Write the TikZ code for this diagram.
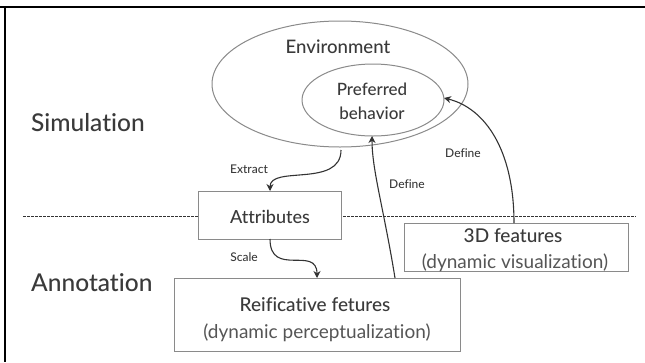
\documentclass[tikz,border=0pt]{standalone}
\usepackage{fontspec}
\setmainfont{Lato}[Ligatures=NoCommon]
\newfontfamily\med{Lato Medium}[Ligatures=NoCommon]
\usetikzlibrary{arrows.meta,shapes.geometric}
\definecolor{txt}{HTML}{3A3A3A}
\definecolor{txtl}{HTML}{555555}
\definecolor{edge}{HTML}{8A8A8A}
\definecolor{arr}{HTML}{333333}
\begin{document}
\begin{tikzpicture}[x=1pt,y=-1pt,
  box/.style={draw=edge,fill=white,line width=1pt,rectangle,inner sep=0pt},
  oval/.style={draw=edge,line width=1pt,ellipse,inner sep=0pt},
  lbl/.style={text=txt,inner sep=0pt},
  head/.style={text=txt,inner sep=0pt,font=\med\fontsize{19}{21}\selectfont},
  sub/.style={text=txtl,inner sep=0pt,font=\fontsize{19}{21}\selectfont},
  small/.style={text=txt,inner sep=0pt,font=\med\fontsize{12}{13}\selectfont},
  conn/.style={draw=arr,line width=1.1pt,-{Stealth[length=7pt,width=7pt]}}]
\useasboundingbox (0,0) rectangle (645,362);
\fill[white] (0,0) rectangle (645,362);
% frame
\draw[black,line width=2pt] (0,7) -- (645,7);
\draw[black,line width=2pt] (5,7) -- (5,362);
% dashed divider
\draw[arr,line width=0.8pt,dash pattern=on 2.5pt off 1.5pt] (23,216) -- (636,216);
% ellipses
\node[oval,minimum width=256pt,minimum height=126pt] (env) at (340,84) {};
\node[lbl,font=\med\fontsize{18.6}{20}\selectfont] (envt) at (338,47) {Environment};
\node[oval,minimum width=142pt,minimum height=72pt] (pref) at (373,100) {};
\node[lbl,font=\med\fontsize{17}{20}\selectfont,anchor=base] (pref1) at (372,95) {Preferred};
\node[lbl,font=\med\fontsize{17}{20}\selectfont,anchor=base] (pref2) at (372,119) {behavior};
% side labels
\node[lbl,font=\med\fontsize{24.5}{26}\selectfont,anchor=west] (sim) at (31,123) {Simulation};
\node[lbl,font=\med\fontsize{24.5}{26}\selectfont,anchor=west] (ann) at (31,283) {Annotation};
% boxes
\node[box,minimum width=143pt,minimum height=48pt] (attr) at (269.5,215) {};
\node[head,font=\med\fontsize{18}{20}\selectfont] (attrt) at (270,217) {Attributes};
\node[box,minimum width=224pt,minimum height=48pt] (three) at (516,247) {};
\node[head,anchor=base] (three1) at (513,242) {3D features};
\node[sub,anchor=base] (three2) at (515,268) {(dynamic visualization)};
\node[box,minimum width=286pt,minimum height=73pt] (reif) at (317,314.5) {};
\node[head,anchor=base] (reif1) at (315,311) {Reificative fetures};
\node[sub,anchor=base] (reif2) at (317,338) {(dynamic perceptualization)};
% coordinates
\coordinate (envb) at (341,150);
\coordinate (attrtop) at (270,191);
\coordinate (attrb) at (270,239);
\coordinate (reift) at (317,278);
\coordinate (reifd) at (395,278);
\coordinate (prefb) at (372,136);
\coordinate (threet) at (514,223);
\coordinate (prefr) at (444,98);
% connectors
\draw[conn] (envb) .. controls (341,188) and (270,165) .. (attrtop);
\draw[conn] (attrb) .. controls (270,278) and (317,245) .. (reift);
\draw[conn] (reifd) .. controls (384,210) and (372,170) .. (prefb);
\draw[conn] (threet) .. controls (514,150) and (485,108) .. (prefr);
% labels
\node[small] (lext) at (249,169) {Extract};
\node[small] (lsca) at (244,257) {Scale};
\node[small] (ldef1) at (407,184) {Define};
\node[small] (ldef2) at (463,153) {Define};
\end{tikzpicture}
\end{document}
